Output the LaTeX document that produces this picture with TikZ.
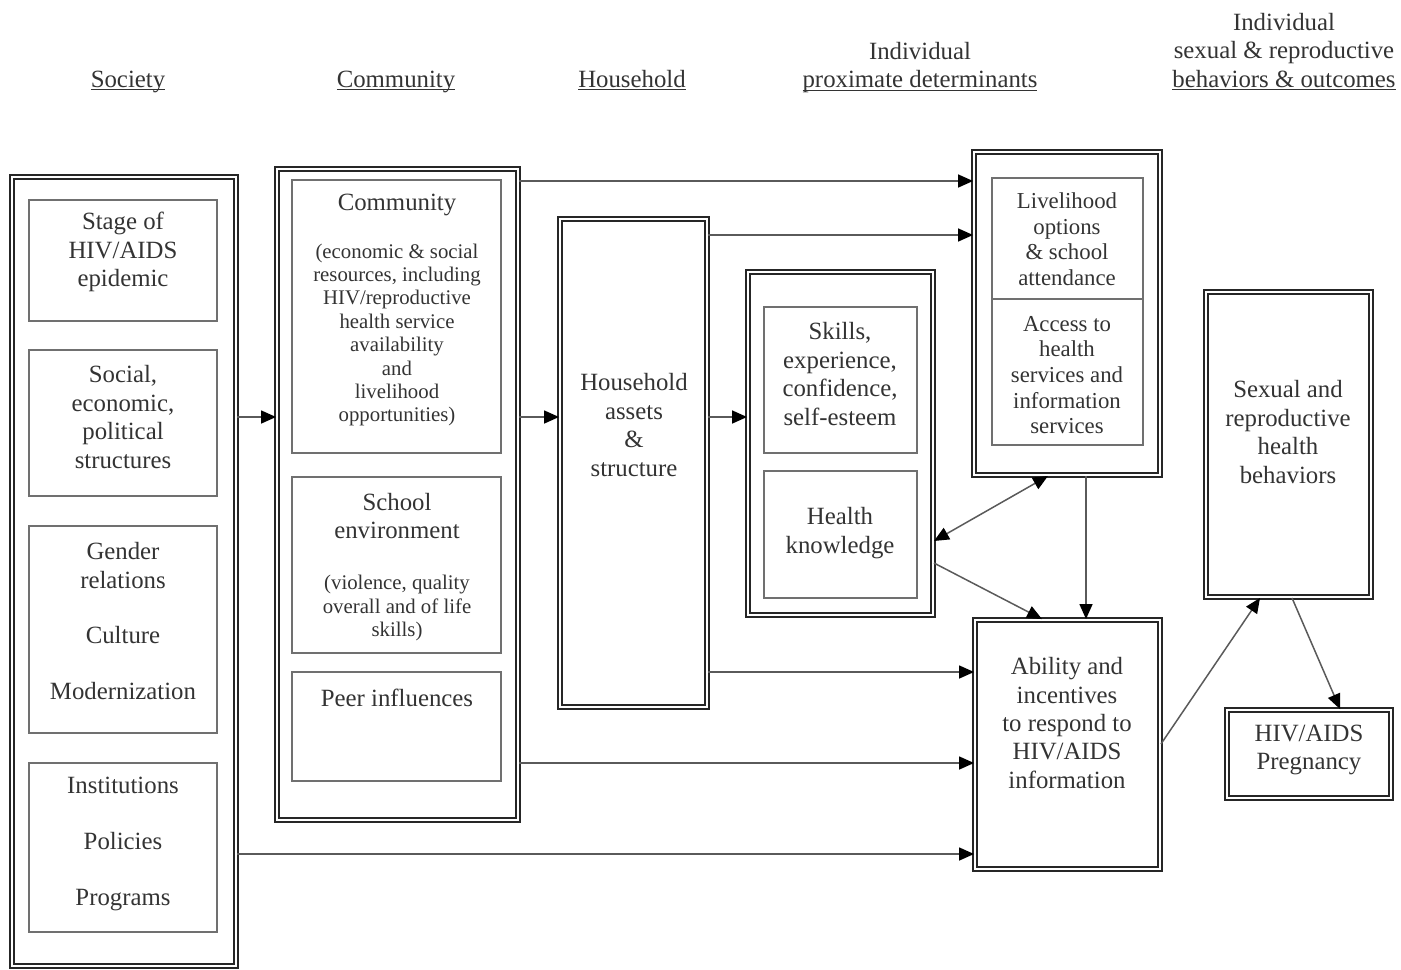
\documentclass[tikz,border=0pt]{standalone}
\usepackage{fontspec}
\setmainfont{Liberation Serif}
\usetikzlibrary{arrows.meta,fit}
\definecolor{fw-ink}{HTML}{333333}
\definecolor{fw-line}{HTML}{5A5A5A}
\definecolor{fw-box}{HTML}{262626}
\definecolor{fw-thin}{HTML}{707070}
\newcommand{\mainsz}{\fontsize{12.4}{14.2}\selectfont}
\newcommand{\midsz}{\fontsize{11.4}{12.8}\selectfont}
\newcommand{\smallsz}{\fontsize{10.4}{11.7}\selectfont}
\newcommand{\hdrline}[1]{\underline{\smash{#1}}}

\begin{document}
\begin{tikzpicture}[x=0.5pt,y=-0.5pt,
  dbox/.style={draw=fw-box,line width=0.95pt,double=white,double distance=0.7pt,inner sep=0pt},
  ibox/.style={draw=fw-thin,line width=0.6pt,inner sep=0pt},
  txt/.style={text=fw-ink,font=\mainsz,align=center,inner sep=0pt},
  conn/.style={fw-line,line width=0.75pt,-{Triangle[length=7.5pt,width=6.5pt,color=black]}},
  both/.style={fw-line,line width=0.75pt,{Triangle[length=7.5pt,width=6.5pt,color=black]}-{Triangle[length=7.5pt,width=6.5pt,color=black]}}]

\useasboundingbox (0,0) rectangle (1401,969);

% ============ column headings ============
\node[txt] (h-soc) at (128,89) {\hdrline{Society}};
\node[txt] (h-com) at (396,89) {\hdrline{Community}};
\node[txt] (h-hh)  at (632,89) {\hdrline{Household}};
\node[txt] (h-ind) at (920,67) {Individual\\\hdrline{proximate determinants}};
\node[txt] (h-out) at (1284,52) {Individual\\sexual \& reproductive\\\hdrline{behaviors \& outcomes}};

% ============ society ============
\node[dbox,fit={(12,177) (236,966)}] (soc) {};
\node[ibox,fit={(29,200) (217,321)}] (stage) {};
\node[ibox,fit={(29,350) (217,496)}] (struct) {};
\node[ibox,fit={(29,526) (217,733)}] (gender) {};
\node[ibox,fit={(29,763) (217,932)}] (inst) {};
\node[txt] (t-stage)  at (123,252) {Stage of\\HIV/AIDS\\epidemic};
\node[txt] (t-struct) at (123,417) {Social,\\economic,\\political\\structures};
\node[txt] (t-gender) at (123,621) {Gender\\relations\\[13.6pt]Culture\\[13.6pt]Modernization};
\node[txt] (t-inst)   at (123,844) {Institutions\\[13.6pt]Policies\\[13.6pt]Programs};

% ============ community ============
\node[dbox,fit={(277,169) (518,820)}] (com) {};
\node[ibox,fit={(292,180) (501,453)}] (comres) {};
\node[ibox,fit={(292,477) (501,653)}] (school) {};
\node[ibox,fit={(292,672) (501,781)}] (peer) {};
\node[txt] (t-comres) at (397,205) {Community};
\node[txt,font=\smallsz] (t-comsub) at (397,335) {(economic \& social\\resources, including\\HIV/reproductive\\health service\\availability\\and\\livelihood\\opportunities)};
\node[txt] (t-school) at (397,516) {School\\environment};
\node[txt,font=\smallsz] (t-schsub) at (397,608) {(violence, quality\\overall and of life\\skills)};
\node[txt] (t-peer) at (397,698) {Peer influences};

% ============ household ============
\node[dbox,fit={(560,219) (707,707)}] (hh) {};
\node[txt] (t-hh) at (634,425) {Household\\assets\\\&\\structure};

% ============ individual determinants ============
\node[dbox,fit={(748,272) (933,615)}] (ind) {};
\node[ibox,fit={(764,307) (917,453)}] (skills) {};
\node[ibox,fit={(764,471) (917,598)}] (know) {};
\node[txt] (t-skills) at (840,374) {Skills,\\experience,\\confidence,\\self-esteem};
\node[txt] (t-know) at (840,533) {Health\\knowledge};

\node[dbox,fit={(974,152) (1160,475)}] (liv) {};
\node[ibox,fit={(992,178) (1143,445)}] (livin) {};
\draw[fw-thin,line width=0.6pt] (livin.west |- 0,299) -- (livin.east |- 0,299);
\node[txt,font=\midsz] (t-liv) at (1067,239) {Livelihood\\options\\\& school\\attendance};
\node[txt,font=\midsz] (t-access) at (1067,375) {Access to\\health\\services and\\information\\services};

\node[dbox,fit={(975,620) (1160,869)}] (abil) {};
\node[txt] (t-abil) at (1067,723) {Ability and\\incentives\\to respond to\\HIV/AIDS\\information};

% ============ outcomes ============
\node[dbox,fit={(1206,292) (1371,597)}] (sex) {};
\node[txt] (t-sex) at (1288,432) {Sexual and\\reproductive\\health\\behaviors};
\node[dbox,fit={(1227,710) (1391,798)}] (hiv) {};
\node[txt] (t-hiv) at (1309,750) {HIV/AIDS\\Pregnancy};

% ============ connectors ============
\draw[conn] (soc.east |- 0,417) -- (com.west |- 0,417);
\draw[conn] (com.east |- 0,417) -- (hh.west |- 0,417);
\draw[conn] (hh.east |- 0,417) -- (ind.west |- 0,417);
\draw[conn] (com.east |- 0,181) -- (liv.west |- 0,181);
\draw[conn] (hh.east |- 0,235) -- (liv.west |- 0,235);
\draw[conn] (hh.east |- 0,672) -- (abil.west |- 0,672);
\draw[conn] (com.east |- 0,763) -- (abil.west |- 0,763);
\draw[conn] (soc.east |- 0,854) -- (abil.west |- 0,854);
\draw[both] (ind.east |- 0,541) -- (liv.south -| 1048,0);
\draw[conn] (ind.east |- 0,563) -- (abil.north -| 1042,0);
\draw[conn] (liv.south -| 1086,0) -- (abil.north -| 1086,0);
\draw[conn] (abil.east |- 0,744) -- (sex.south -| 1260,0);
\draw[conn] (sex.south -| 1292,0) -- (hiv.north -| 1340,0);

\end{tikzpicture}
\end{document}
